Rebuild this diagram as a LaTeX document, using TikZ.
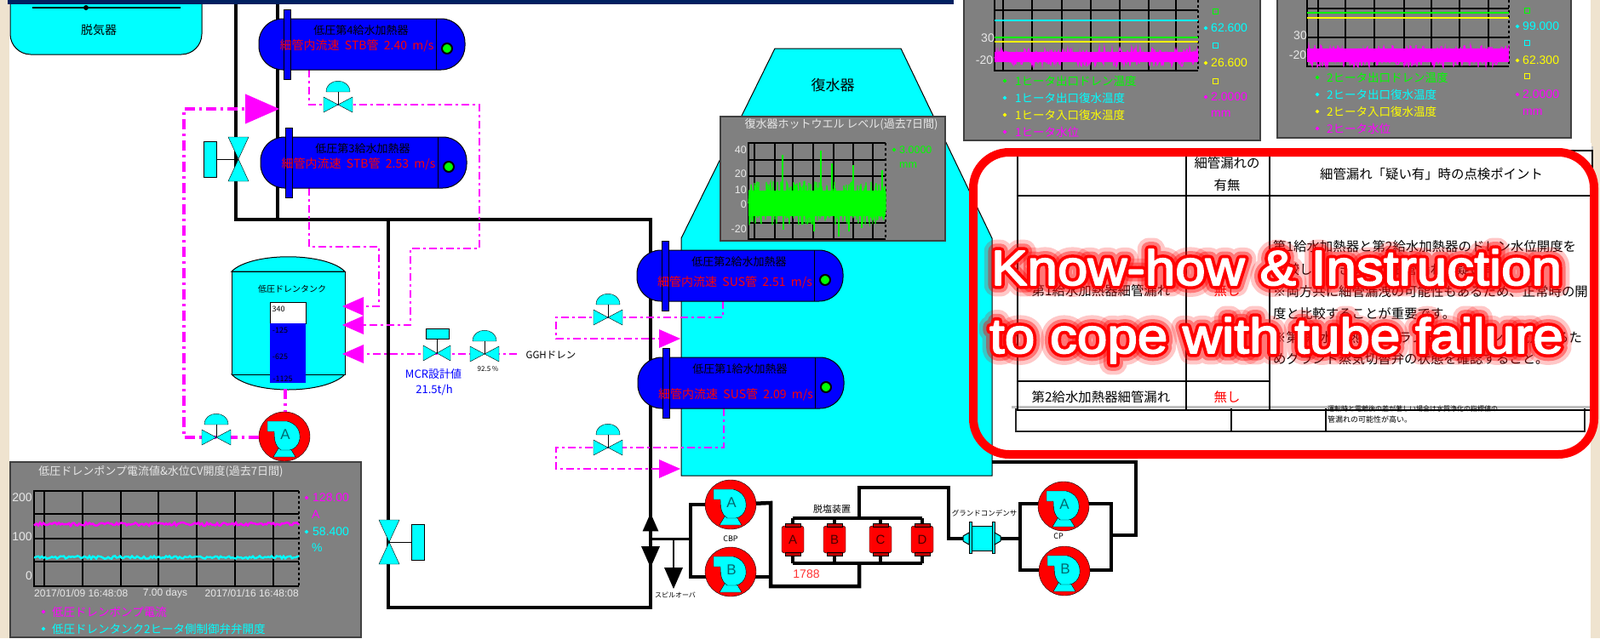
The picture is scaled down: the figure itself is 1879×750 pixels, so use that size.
\documentclass[tikz,border=0pt]{standalone}
\usepackage{fontspec}
\setmainfont{Liberation Sans}
\newfontfamily\jpfont{Noto Sans CJK JP}
\newfontfamily\headfont[FakeStretch=1.1,FakeBold=3]{Liberation Sans}
\newfontfamily\headedge[FakeStretch=1.1,FakeBold=16]{Liberation Sans}
\newfontfamily\headhalo[FakeStretch=1.1,FakeBold=30]{Liberation Sans}
\newfontfamily\headhalowide[FakeStretch=1.1,FakeBold=46]{Liberation Sans}
\usetikzlibrary{shapes.geometric,calc}

\definecolor{navybar}{HTML}{002060}
\definecolor{sidestrip}{HTML}{EFE3CF}
\definecolor{chartgray}{HTML}{808080}
\definecolor{axistext}{HTML}{E8E8E8}
\definecolor{pumpletter}{HTML}{006A70}
\definecolor{cyan}{RGB}{0,255,255}
\definecolor{magenta}{RGB}{255,0,255}
\definecolor{yellow}{RGB}{255,255,0}
\definecolor{green}{RGB}{0,255,0}
\definecolor{red}{RGB}{255,0,0}
\definecolor{blue}{RGB}{0,0,255}

% white letters, red edge, soft red halo
\newcommand{\glowtitle}[1]{%
  \pgfsetroundjoin
  \pgfsetfillopacity{0.22}\pgfsetstrokeopacity{0.22}%
  \rlap{\headhalowide\fontsize{58}{60}\selectfont\textcolor{red}{#1}}%
  \pgfsetfillopacity{0.4}\pgfsetstrokeopacity{0.4}%
  \rlap{\headhalo\fontsize{58}{60}\selectfont\textcolor{red}{#1}}%
  \pgfsetfillopacity{1}\pgfsetstrokeopacity{1}%
  \rlap{\headedge\fontsize{58}{60}\selectfont\textcolor{red}{#1}}%
  \headfont\fontsize{58}{60}\selectfont\textcolor{white}{#1}}

\tikzset{
    pics/heaterunit/.style n args={3}{code={
        \draw[fill=blue, line width=1pt, rounded corners=28pt] (0,0) rectangle (242,60);
        \draw[line width=1pt] (208,0) -- (208,60);
        \draw[fill=blue, line width=1pt] (29,-11) rectangle (37,71);
        \node[hblack] at (120,14) {#1};
        \node[hred] at (115,#3) {#2};
        \node[circle, draw=black, line width=2pt, fill=green, minimum size=12pt, inner sep=0pt] at (221,35) {};
    }},
    pics/ctrlvalve/.style={code={
        \draw[fill=cyan] (-17,-9) -- (0,0) -- (-17,9) -- cycle;
        \draw[fill=cyan] (17,-9) -- (0,0) -- (17,9) -- cycle;
        \draw (0,0) -- (0,-15);
        \draw[fill=cyan] (-14,-15) .. controls (-14,-32) and (14,-32) .. (14,-15) -- cycle;
    }},
    pics/boxvalve/.style={code={
        \draw[fill=cyan] (-16,-9) -- (0,0) -- (-16,9) -- cycle;
        \draw[fill=cyan] (16,-9) -- (0,0) -- (16,9) -- cycle;
        \draw (0,0) -- (0,-17);
        \draw[fill=cyan] (-13,-29) rectangle (14,-17);
    }},
    pics/motorvalve/.style={code={
        \draw[fill=cyan] (-12,-26) -- (12,-26) -- (0,0) -- cycle;
        \draw[fill=cyan] (-12,26) -- (12,26) -- (0,0) -- cycle;
        \draw (0,0) -- (-26,0);
        \draw[fill=cyan] (-41,-21) rectangle (-26,21);
    }},
    pics/flowtip/.style={code={
        \fill (0,0) -- (-25,-11) -- (-25,11) -- cycle;
    }},
    pics/pumpunit/.style={code={
        \draw[fill=red] (0,0) ellipse (30pt and 29pt);
        \draw[fill=cyan] (-7,14) -- (7,14) -- (13,24) -- (-13,24) -- cycle;
        \draw[fill=cyan] (-20,-18) -- (3,-18) .. controls (15,-15) and (19,-6) .. (18,3)
            .. controls (17,10) and (12,15) .. (6,16) -- (-4,16)
            .. controls (-10,12) and (-12,6) .. (-12,-6) -- (-20,-6) -- cycle;
        \node[text=pumpletter, font=\fontsize{17}{17}\selectfont] at (1,-2) {#1};
    }},
    pics/resintube/.style={code={
        \draw[fill=red, rounded corners=3pt] (-13,-16) rectangle (13,16);
        \draw[fill=red!75!black] (-9,-19) rectangle (9,-15);
        \draw[fill=red!75!black] (-9,15) rectangle (9,19);
        \node[text=black!70!red, font=\fontsize{15}{15}\selectfont] at (0,0) {#1};
    }},
    hblack/.style={font=\jpfont\fontsize{13}{14}\selectfont, text=black, inner sep=0pt},
    hred/.style={font=\jpfont\fontsize{14}{14}\selectfont, text=red, inner sep=0pt},
}

\begin{document}
\begin{tikzpicture}[
    x=1pt, y=-1pt,
    pipe/.style={draw=black, line width=4.5pt},
    thinpipe/.style={draw=black, line width=2pt},
    drainline/.style={draw=magenta, line width=2.6pt, dash pattern=on 9pt off 4pt on 3pt off 4pt},
    heavydrain/.style={draw=magenta, line width=4.5pt, dash pattern=on 12pt off 5pt on 3pt off 5pt},
    chartframe/.style={draw=black!75, line width=1.2pt, fill=chartgray},
    gridline/.style={draw=black, line width=1.1pt},
    axislabel/.style={font=\fontsize{14}{14}\selectfont, text=axistext, inner sep=0pt},
    datelabel/.style={axislabel, font=\fontsize{12}{13}\selectfont},
    charttitle/.style={font=\jpfont\fontsize{13}{14}\selectfont, text=axistext, inner sep=0pt},
    legendtext/.style={font=\jpfont\fontsize{13.5}{14}\selectfont, inner sep=0pt, anchor=west},
    valuetext/.style={font=\fontsize{14}{14}\selectfont, inner sep=0pt, anchor=west},
    marker/.style={diamond, fill, inner sep=0pt, minimum size=5pt},
    unitbox/.style={draw, line width=1pt, minimum size=6pt, inner sep=0pt},
    tinylabel/.style={font=\jpfont\fontsize{9}{10}\selectfont, inner sep=0pt},
    papertext/.style={font=\jpfont\fontsize{15.4}{17}\selectfont, inner sep=0pt},
    paperline/.style={papertext, anchor=west},
    tablerule/.style={draw=black, line width=1.5pt},
    bigtitle/.style={inner sep=0pt, text=white}
]
\useasboundingbox (0,0) rectangle (1879,750);
\fill[white] (0,0) rectangle (1879,750);

% Side strips and top bar
\fill[sidestrip] (0,0) rectangle (11,750);
\fill[sidestrip] (1868,0) rectangle (1879,750);

% Condenser body
\draw[fill=cyan, line width=1pt] (910,57) -- (1058,57) -- (1165,280) -- (1165,559) -- (800,559) -- (800,280) -- cycle;
\node[font=\jpfont\fontsize{17}{18}\selectfont, inner sep=0pt] (condenser) at (978,100) {復水器};

% Deaerator
\draw[fill=cyan, line width=1pt, rounded corners=24pt] (12,-30) -- (12,64) -- (237,64) -- (237,-30);
\node[font=\jpfont\fontsize{14}{15}\selectfont, inner sep=0pt] (deaerator) at (116,35) {脱気器};
\draw[line width=2.2pt] (38,9) -- (212,9);
\fill (101,9) circle (3pt);

% Pipe junctions
\coordinate (feedleft) at (277,5);
\coordinate (feedright) at (326,5);
\coordinate (busleft) at (277,258);
\coordinate (busright) at (326,258);
\coordinate (buscorner) at (764,258);
\coordinate (busmid) at (456,258);
\coordinate (returnleft) at (456,714);
\coordinate (returnright) at (764,714);
\coordinate (cbpinlet) at (811,633);
\coordinate (spilltop) at (791,633);
\coordinate (spilltip) at (791,670);
\coordinate (risertee) at (764,633);

% Main feed pipes
\draw[pipe] (feedleft) -- (busleft) -- (buscorner) -- (returnright) -- (returnleft) -- (busmid);
\draw[pipe] (feedright) -- (busright);

% Booster pump loop
\draw[pipe, line width=3pt] (risertee) -- (cbpinlet);
\draw[thinpipe] (spilltop) -- (spilltip);
\coordinate (cbpa) at (858,593);
\coordinate (cbpb) at (858,672);
\coordinate (cbpouttop) at (905,591);
\coordinate (cbpoutlow) at (905,689);
\coordinate (drawoff) at (1009,689);
\coordinate (lowbus) at (1009,662);
\coordinate (topbus) at (1009,609);
\coordinate (topriser) at (1009,573);
\coordinate (glandturn) at (1114,573);
\coordinate (glandin) at (1114,633);
\coordinate (glandout) at (1198,633);
\draw[pipe] (811,591) |- (cbpa);
\draw[pipe] (cbpinlet) -- (811,591);
\draw[pipe] (cbpinlet) -- (811,678) -- (cbpb |- 0,678);
\draw[pipe] (cbpa) -- (cbpouttop) -- (cbpoutlow) -- (drawoff) -- (lowbus);
\draw[pipe] (cbpb |- 0,678) -- (905,678);
\draw[pipe] (931,662) -- (1083,662);
\draw[pipe] (931,609) -- (1083,609);
\draw[pipe] (topbus) -- (topriser) -- (glandturn) -- (glandin) -- (glandout);
\foreach \tubex in {931,980,1034,1083}{
    \draw[pipe] (\tubex,609) -- (\tubex,662);
}

% Condensate pump loop
\coordinate (cpa) at (1249,592);
\coordinate (cpb) at (1250,670);
\coordinate (cpoutright) at (1305,629);
\coordinate (cpturn) at (1334,629);
\coordinate (cpreturn) at (1334,543);
\coordinate (cpend) at (1165,543);
\draw[pipe] (1198,592) -- (1198,670) -- (cpb) -- (1305,670) -- (1305,592) -- (cpa) -- cycle;
\draw[pipe] (cpoutright) -- (cpturn) -- (cpreturn) -- (cpend);

% Pumps, tubes and gland condenser
\pic at (cbpa) {pumpunit={A}};
\pic at (cbpb) {pumpunit={B}};
\pic at (1249,595) {pumpunit={A}};
\pic at (1250,671) {pumpunit={B}};
\pic at (334,513) {pumpunit={A}};
\pic at (931,634) {resintube={A}};
\pic at (980,634) {resintube={B}};
\pic at (1034,634) {resintube={C}};
\pic at (1083,634) {resintube={D}};
\draw[fill=cyan, line width=1pt] (1140,618) rectangle (1166,647);
\draw[fill=cyan, line width=1pt] (1138,613) rectangle (1141,650);
\draw[fill=cyan, line width=1pt] (1165,613) rectangle (1168,650);
\draw[fill=cyan, line width=1pt] (1138,626) -- (1131,630) -- (1131,636) -- (1138,640) -- cycle;
\draw[fill=cyan, line width=1pt] (1168,626) -- (1175,630) -- (1175,636) -- (1168,640) -- cycle;

% Labels on the lower loop
\node[tinylabel] (cbplabel) at (858,633) {CBP};
\node[tinylabel] (cplabel) at (1243,630) {CP};
\node[tinylabel, font=\jpfont\fontsize{11}{12}\selectfont] (resinlabel) at (977,598) {脱塩装置};
\node[tinylabel, font=\jpfont\fontsize{8.5}{9}\selectfont] (glandlabel) at (1156,603) {グランドコンデンサ};
\node[tinylabel, font=\jpfont\fontsize{8}{9}\selectfont] (spilllabel) at (793,699) {スピルオーバ};
\node[font=\fontsize{14}{14}\selectfont, text=red!80, inner sep=0pt] (flowcount) at (947,675) {1788};

% Riser and spill arrows
\pic[rotate=90, fill=black, scale=0.85] at (764,603) {flowtip};
\pic[rotate=-90, fill=black] at (764,667) {flowtip};
\pic[rotate=-90, fill=black] at (791,692) {flowtip};

% Drain tank
\draw[fill=cyan, line width=1pt] (272,319) .. controls (295,296) and (382,296) .. (405,319) -- cycle;
\draw[fill=cyan, line width=1pt] (272,440) .. controls (295,464) and (382,464) .. (405,440) -- cycle;
\draw[fill=cyan, line width=1pt] (272,319) rectangle (405,440);
\node[tinylabel, font=\jpfont\fontsize{10}{11}\selectfont] (tanktitle) at (343,340) {低圧ドレンタンク};
\draw[fill=white] (317,355) rectangle (359,380);
\fill[blue] (317,380) rectangle (359,450);
\node[tinylabel] at (327,363) {340};
\node[tinylabel] at (329,388) {-125};
\node[tinylabel] at (329,419) {-625};
\node[tinylabel] at (332,445) {-1125};

% Drain lines
\coordinate (hfourdrain) at (363,82);
\coordinate (hfourvalve) at (397,123);
\coordinate (hthreedrain) at (363,221);
\coordinate (tankfirst) at (420,360);
\coordinate (tanksecond) at (420,382);
\coordinate (tankthird) at (420,416);
\coordinate (gghend) at (607,416);
\coordinate (tankout) at (335,457);
\coordinate (pumpfeed) at (335,484);
\coordinate (recircvalve) at (254,514);
\coordinate (recirctop) at (216,128);
\coordinate (heatinlet) at (290,128);
\coordinate (htwodrain) at (849,354);
\coordinate (honedrain) at (850,480);
\draw[drainline] (hfourdrain) |- (hfourvalve) -- (563,123) -- (563,292) -- (482,292) -- (482,382) -- (tanksecond);
\draw[drainline] (hthreedrain) -- (363,290) -- (445,290) -- (445,360) -- (tankfirst);
\draw[drainline] (gghend) -- (tankthird);
\draw[heavydrain] (tankout) -- (pumpfeed);
\draw[heavydrain] (304,514) -- (recircvalve) -- (216,514) -- (recirctop) -- (heatinlet);
\draw[drainline] (htwodrain) -- (849,373) -- (653,373) -- (653,398) -- (780,398);
\draw[drainline] (honedrain) -- (850,526) -- (653,526) -- (653,551) -- (780,551);

% Flow arrows into tank, heater and condenser
\pic[rotate=180, fill=magenta] at (402,360) {flowtip};
\pic[rotate=180, fill=magenta] at (402,382) {flowtip};
\pic[rotate=180, fill=magenta] at (402,416) {flowtip};
\pic[fill=magenta, scale=1.6] at (328,128) {flowtip};
\pic[fill=magenta] at (799,398) {flowtip};
\pic[fill=magenta] at (799,551) {flowtip};

% Valves
\pic at (hfourvalve) {ctrlvalve};
\pic at (254,514) {ctrlvalve};
\pic at (569,416) {ctrlvalve};
\pic at (714,373) {ctrlvalve};
\pic at (714,526) {ctrlvalve};
\pic at (513,415) {boxvalve};
\pic at (280,187) {motorvalve};
\pic[xscale=-1] at (457,637) {motorvalve};

\node[tinylabel, font=\jpfont\fontsize{8}{9}\selectfont] (openlabel) at (573,434) {92.5 \%};
\node[font=\jpfont\fontsize{13}{14}\selectfont, text=blue, inner sep=0pt] (mcrname) at (509,440) {MCR設計値};
\node[font=\jpfont\fontsize{13}{14}\selectfont, text=blue, inner sep=0pt] (mcrvalue) at (510,458) {21.5t/h};
\node[font=\jpfont\fontsize{11.5}{12}\selectfont, inner sep=0pt] (gghlabel) at (647,417) {GGHドレン};

% Heaters
\pic at (304,22) {heaterunit={低圧第4給水加熱器}{細管内流速\ \ STB管\ \ 2.40 \ m/s}{32}};
\pic at (306,161) {heaterunit={低圧第3給水加熱器}{細管内流速\ \ STB管\ \ 2.53 \ m/s}{32}};
\pic at (748,294) {heaterunit={低圧第2給水加熱器}{細管内流速\ \ SUS管\ \ 2.51 \ m/s}{38}};
\pic at (749,420) {heaterunit={低圧第1給水加熱器}{細管内流速\ \ SUS管\ \ 2.09 \ m/s}{44}};

% Top bar stays above the pipes
\fill[navybar] (9,0) rectangle (1120,5);

% Drain pump trend
\path[chartframe] (12,543) rectangle (424,749);
\node[charttitle] (pumptitle) at (189,554) {低圧ドレンポンプ電流値\&水位CV開度(過去7日間)};
\foreach \gx in {52,97,142,186,231,276,321}{
    \draw[gridline] (\gx,577) -- (\gx,689);
}
\foreach \gy in {604,633,660}{
    \draw[gridline] (40,\gy) -- (351,\gy);
}
\draw[gridline] (351,689) -- (40,689) -- (40,577) -- (351,577);
\draw[gridline, dashed] (351,577) -- (351,689);
\draw[magenta, line width=2.4pt] (40,616) \foreach \i in {1,3,...,311}{ -- ({40+\i},{616+2*rand}) };
\draw[cyan, line width=2.4pt] (40,655) \foreach \i in {1,3,...,311}{ -- ({40+\i},{655+1.6*rand}) };
\node[axislabel] at (26,585) {200};
\node[axislabel] at (26,631) {100};
\node[axislabel] at (34,677) {0};
\node[datelabel, anchor=west] at (40,697) {2017/01/09 16:48:08};
\node[datelabel] at (194,697) {7.00 days};
\node[datelabel, anchor=east] at (351,697) {2017/01/16 16:48:08};
\node[marker, magenta] at (360,585) {};
\node[valuetext, magenta] at (367,585) {128.00};
\node[valuetext, magenta] at (366,605) {A};
\node[marker, cyan] at (360,625) {};
\node[valuetext, cyan] at (367,625) {58.400};
\node[valuetext, cyan] at (366,644) {\%};
\node[marker, magenta] at (51,719) {};
\node[legendtext, magenta] at (61,719) {低圧ドレンポンプ電流};
\node[marker, cyan] at (51,739) {};
\node[legendtext, cyan] at (61,739) {低圧ドレンタンク2ヒータ側制御弁弁開度};

% Hotwell trend
\path[chartframe] (846,137) rectangle (1110,283);
\node[charttitle] (wellname) at (988,146) {復水器ホットウエル レベル(過去7日間)};
\foreach \gx in {886,910,931,955,979,1002,1025}{
    \draw[gridline] (\gx,168) -- (\gx,281);
}
\foreach \gy in {188,207,262}{
    \draw[gridline] (879,\gy) -- (1040,\gy);
}
\draw[gridline] (1040,281) -- (879,281) -- (879,168) -- (1040,168);
\draw[gridline, dashed] (1040,168) -- (1040,281);
\pgfmathsetseed{17}
\fill[green] (879,224) rectangle (1040,254);
\draw[green, line width=1.2pt] (879,239) \foreach \i in {1,...,161}{ -- ({879+\i},{239+26*rand}) -- ({879+\i},{239-26*rand}) };
\foreach \sx/\sy in {919/182,964/177,985/278,1002/194,1012/268,977/192,1036/200,956/272,920/270,997/272}{
    \draw[green, line width=1.2pt] (\sx,239) -- (\sx,\sy);
}
\foreach \lab/\ly in {40/176,20/204,10/223,0/240,-20/269}{
    \node[axislabel, font=\fontsize{12.5}{13}\selectfont, anchor=east] at (877,\ly) {\lab};
}
\node[marker, green] at (1050,176) {};
\node[valuetext, green, font=\fontsize{12.5}{13}\selectfont] at (1056,176) {3.0000};
\node[valuetext, green, font=\fontsize{12.5}{13}\selectfont] at (1056,194) {mm};

% First heater trend
\path[chartframe] (1132,-5) rectangle (1480,165);
\foreach \gx in {1178,1212,1247,1281,1315,1349,1381}{
    \draw[gridline] (\gx,0) -- (\gx,83);
}
\draw[gridline] (1168,12) -- (1407,12);
\draw[gridline] (1168,0) -- (1168,83) -- (1407,83);
\draw[gridline, dashed] (1407,0) -- (1407,83);
\draw[cyan, line width=1.6pt] (1168,24) -- (1407,24);
\draw[green, line width=1.6pt] (1168,44) -- (1407,44);
\draw[yellow, line width=1.6pt] (1168,49) -- (1407,49);
\fill[magenta] (1168,61) rectangle (1407,73);
\draw[magenta, line width=1.2pt] (1168,67) \foreach \i in {1,...,239}{ -- ({1168+\i},{67+11*rand}) };
\node[axislabel] at (1160,45) {30};
\node[axislabel] at (1156,71) {-20};
\node[unitbox, green] at (1427,13) {};
\node[marker, cyan] at (1416,33) {};
\node[valuetext, cyan] at (1422,33) {62.600};
\node[unitbox, cyan] at (1427,53) {};
\node[marker, yellow] at (1416,74) {};
\node[valuetext, yellow] at (1422,74) {26.600};
\node[unitbox, yellow] at (1427,95) {};
\node[marker, magenta] at (1416,114) {};
\node[valuetext, magenta] at (1422,114) {2.0000};
\node[valuetext, magenta] at (1422,134) {mm};
\foreach \lname/\lcol/\ly in {1ヒータ出口ドレン温度/green/95,1ヒータ出口復水温度/cyan/115,1ヒータ入口復水温度/yellow/135,1ヒータ水位/magenta/155}{
    \node[marker, \lcol] at (1180,\ly) {};
    \node[legendtext, \lcol] at (1192,\ly) {\lname};
}

% Second heater trend
\path[chartframe] (1500,-5) rectangle (1845,162);
\foreach \gx in {1548,1580,1614,1649,1681,1714,1748}{
    \draw[gridline] (\gx,0) -- (\gx,78);
}
\draw[gridline] (1535,10) -- (1772,10);
\draw[gridline] (1535,44) -- (1772,44);
\draw[gridline] (1535,0) -- (1535,78) -- (1772,78);
\draw[gridline, dashed] (1772,0) -- (1772,78);
\draw[green, line width=1.6pt] (1535,15) -- (1772,15);
\draw[yellow, line width=1.6pt] (1535,21) -- (1772,21);
\fill[magenta] (1535,57) rectangle (1772,73);
\draw[magenta, line width=1.2pt] (1535,66) \foreach \i in {1,...,237}{ -- ({1535+\i},{66+13*rand}) };
\node[axislabel] at (1527,42) {30};
\node[axislabel] at (1524,65) {-20};
\node[unitbox, green] at (1793,12) {};
\node[marker, cyan] at (1782,31) {};
\node[valuetext, cyan] at (1788,31) {99.000};
\node[unitbox, cyan] at (1793,50) {};
\node[marker, yellow] at (1782,71) {};
\node[valuetext, yellow] at (1788,71) {62.300};
\node[unitbox, yellow] at (1793,89) {};
\node[marker, magenta] at (1782,111) {};
\node[valuetext, magenta] at (1788,111) {2.0000};
\node[valuetext, magenta] at (1788,132) {mm};
\foreach \lname/\lcol/\ly in {2ヒータ出口ドレン温度/green/91,2ヒータ出口復水温度/cyan/111,2ヒータ入口復水温度/yellow/131,2ヒータ水位/magenta/151}{
    \node[marker, \lcol] at (1547,\ly) {};
    \node[legendtext, \lcol] at (1558,\ly) {\lname};
}

% Table underneath
\draw[line width=1.3pt, draw=black!85] (1193,470) -- (1193,507) -- (1861,507) -- (1861,470);
\draw[line width=1.3pt] (1446,470) -- (1446,507);
\draw[line width=1.3pt] (1557,470) -- (1557,507);
\node[tinylabel, anchor=west] (undertwo) at (1559,493) {管漏れの可能性が高い。};

% Table sheet
\fill[black!25] (1188,172) rectangle (1871,480);
\fill[white] (1184,168) rectangle (1869,477);
\node[tinylabel, anchor=west, font=\jpfont\fontsize{8}{9}\selectfont] (underone) at (1559,480) {運転時と電離後の差が著しい場合は水質浄化の指標値の};
\draw[tablerule] (1195,177) rectangle (1870,482);
\draw[tablerule] (1393,177) -- (1393,482);
\draw[tablerule] (1491,177) -- (1491,482);
\draw[tablerule] (1195,230) -- (1870,230);
\draw[tablerule] (1195,448) -- (1491,448);

\node[papertext] (leakhead) at (1441,192) {細管漏れの};
\node[papertext] (leakheadb) at (1441,218) {有無};
\node[papertext] (pointhead) at (1681,205) {細管漏れ「疑い有」時の点検ポイント};
\node[papertext] (firstrow) at (1293,342) {第1給水加熱器細管漏れ};
\node[papertext, text=red] (firstmark) at (1441,342) {無し};
\node[papertext] (secondrow) at (1293,467) {第2給水加熱器細管漏れ};
\node[papertext, text=red] (secondmark) at (1441,467) {無し};
\node[paperline] (noteone) at (1495,290) {第1給水加熱器と第2給水加熱器のドレン水位開度を};
\node[paperline] (notetwo) at (1495,317) {比較して大きい方が細管漏れの疑い有り};
\node[paperline] (notethree) at (1495,343) {※両方共に細管漏洩の可能性もあるため、正常時の開};
\node[paperline] (notefour) at (1495,369) {度と比較することが重要です。};
\node[paperline] (notefive) at (1495,397) {※第1給水加熱器はグランド蒸気ドレンも流入するた};
\node[paperline] (notesix) at (1495,422) {めグランド蒸気切替弁の状態を確認すること。};

% Red frame and headline
\draw[red, line width=10pt, rounded corners=42pt] (1143,179) rectangle (1872,534);
\node[bigtitle, anchor=base] (headone) at (1499,335) {\glowtitle{Know-how \& Instruction}};
\node[bigtitle, anchor=base] (headtwo) at (1499,415) {\glowtitle{to cope with tube failure}};

\end{tikzpicture}
\end{document}
